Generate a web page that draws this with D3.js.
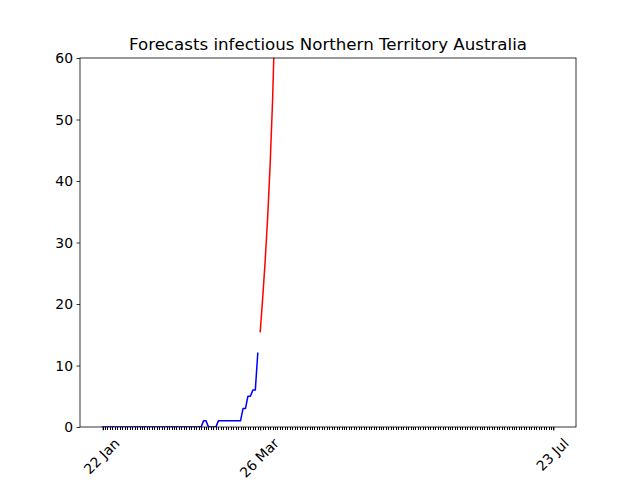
<!DOCTYPE html>
<html><head><meta charset="utf-8">
<script src="https://cdn.jsdelivr.net/npm/d3@7"></script>
<style>body{margin:0;background:#fff}svg{display:block}text{font-family:"DejaVu Sans",sans-serif;fill:#000}</style>
</head><body>
<svg id="c" width="640" height="480"></svg>
<script>
const title = "Forecasts infectious Northern Territory Australia";
const observedStart = "2020-01-22";
const observed = [0,0,0,0,0,0,0,0,0,0, 0,0,0,0,0,0,0,0,0,0, 0,0,0,0,0,0,0,0,0,0, 0,0,0,0,0,0,0,0,0,0, 0,1,1,0,0,0,0,1,1,1, 1,1,1,1,1,1,1,3,3,5, 5,6,6,12];
const forecastStart = "2020-03-26";
const forecast = [15.5,21,27,34,42.5,53,67];
const xDomain = ["2020-01-22","2020-07-23"];
const xTickDates = ["2020-01-22","2020-03-26","2020-07-23"];
const xTickLabels = ["22 Jan","26 Mar","23 Jul"];
const yTicks = [0,10,20,30,40,50,60];

const parse = d3.utcParse("%Y-%m-%d");
const svg = d3.select("#c");
const L=80,R=576,T=58,B=427;
const d0 = parse(xDomain[0]), d1 = parse(xDomain[1]);
const span = d1 - d0, m = span*0.05;
const x = d3.scaleUtc().domain([new Date(+d0-m), new Date(+d1+m)]).range([L,R]);
const y = d3.scaleLinear().domain([0,60]).range([B,T]);

const obs = observed.map((v,i)=>({d:d3.utcDay.offset(parse(observedStart),i),v}));
const fc = forecast.map((v,i)=>({d:d3.utcDay.offset(parse(forecastStart),i),v}));

svg.append("clipPath").attr("id","clip").append("rect").attr("x",L).attr("y",T).attr("width",R-L).attr("height",B-T);
const line = d3.line().x(p=>x(p.d)).y(p=>y(p.v));
const g = svg.append("g").attr("clip-path","url(#clip)");
g.append("path").datum(obs).attr("d",line).attr("fill","none").attr("stroke","#0000ff").attr("stroke-width",1.5).attr("stroke-linecap","square").attr("stroke-linejoin","round");
g.append("path").datum(fc).attr("d",line).attr("fill","none").attr("stroke","#ff0000").attr("stroke-width",1.5).attr("stroke-linecap","square").attr("stroke-linejoin","round");

// minor daily ticks
const days = d3.utcDay.range(d0, d3.utcDay.offset(d1,1));
const xMinor = d3.axisBottom(x).tickValues(days).tickSize(3).tickFormat("");
const gm = svg.append("g").attr("transform",`translate(0,${B})`).call(xMinor);
gm.select(".domain").remove();
gm.selectAll("line").attr("stroke","#000").attr("stroke-width",1).attr("shape-rendering","crispEdges");

// major ticks
const majors = xTickDates.map(parse);
const xAxis = d3.axisBottom(x).tickValues(majors).tickSize(3.5).tickFormat("");
const gx = svg.append("g").attr("transform",`translate(0,${B})`).call(xAxis);
gx.select(".domain").remove();
gx.selectAll("line").attr("stroke","#000").attr("stroke-width",0.8);
majors.forEach((d,i)=>{
  const t = svg.append("text").attr("font-size","13.9px").attr("text-anchor","middle").attr("dominant-baseline","central").text(xTickLabels[i]);
  const w = t.node().getComputedTextLength(), h = 16.2;
  const s = (w+h)/Math.SQRT2;
  const cx = x(d)-1, cy = B+3.5+3.5+s/2+1;
  t.attr("x",cx).attr("y",cy).attr("transform",`rotate(-45,${cx},${cy})`);
});

const yAxis = d3.axisLeft(y).tickValues(yTicks).tickSize(3.5).tickPadding(3.5);
const gy = svg.append("g").attr("transform",`translate(${L},0)`).call(yAxis);
gy.select(".domain").remove();
gy.selectAll("line").attr("stroke","#000").attr("stroke-width",0.8);
gy.selectAll("text").attr("font-size","13.9px").attr("font-family","DejaVu Sans").attr("dy","0.35em");

svg.append("rect").attr("x",L).attr("y",T).attr("width",R-L).attr("height",B-T).attr("fill","none").attr("stroke","#000").attr("stroke-width",0.8);

svg.append("text").attr("x",(L+R)/2).attr("y",T-8).attr("text-anchor","middle").attr("font-size","16.67px").text(title);
</script>
</body></html>
